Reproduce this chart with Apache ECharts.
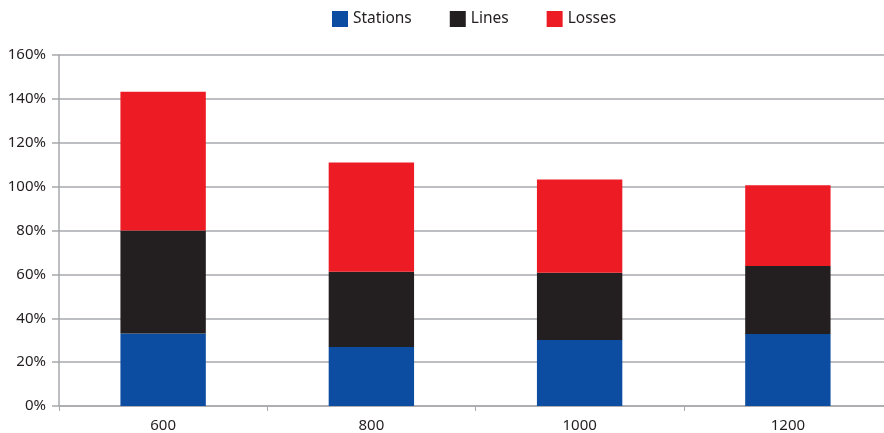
<!DOCTYPE html>
<html>
<head>
<meta charset="utf-8">
<script src="https://cdn.jsdelivr.net/npm/echarts@6/dist/echarts.min.js"></script>
<style>
  html, body { margin: 0; padding: 0; background: #fff; }
  #chart { width: 884px; height: 433px; }
</style>
</head>
<body>
<div id="chart"></div>
<script>
// Share of cost per voltage level, stacked by component (%)
const categories = ['600', '800', '1000', '1200'];
const stations = [33.0, 26.9, 30.1, 32.8];
const lines = [47.0, 34.3, 30.6, 31.0];
const losses = [63.3, 49.8, 42.6, 36.8];
const yTicks = [0, 20, 40, 60, 80, 100, 120, 140, 160];

const FONT = '"Noto Sans", "Open Sans", sans-serif';
const TEXT = '#231f20';
const GRID = '#a7a9ac';

const chart = echarts.init(document.getElementById('chart'), null, { renderer: 'canvas' });

const barSeries = (name, data, color) => ({
  name,
  type: 'bar',
  stack: 'total',
  data,
  barWidth: '41%',
  itemStyle: { color },
  emphasis: { disabled: true }
});

chart.setOption({
  animation: false,
  textStyle: { fontFamily: FONT },
  legend: {
    top: 6,
    left: 327,
    icon: 'rect',
    itemWidth: 16,
    itemHeight: 16,
    itemGap: 38,
    textStyle: { fontSize: 15.5, color: TEXT, fontFamily: FONT }
  },
  // plot runs slightly past the right edge of the canvas
  grid: { left: 59, width: 833, top: 55, bottom: 27, outerBoundsMode: 'none', containLabel: false },
  xAxis: {
    type: 'category',
    data: categories,
    axisLine: { lineStyle: { color: GRID, width: 1.5 } },
    axisTick: { show: true, alignWithLabel: false, length: 5, lineStyle: { color: GRID } },
    axisLabel: { fontSize: 15, color: TEXT, margin: 12, fontFamily: FONT }
  },
  yAxis: {
    type: 'value',
    min: yTicks[0],
    max: yTicks[yTicks.length - 1],
    interval: yTicks[1] - yTicks[0],
    axisLine: { show: true, lineStyle: { color: GRID, width: 1.5 } },
    axisTick: { show: true, length: 7, lineStyle: { color: GRID, width: 1.5 } },
    splitLine: { lineStyle: { color: GRID, width: 1.5 } },
    axisLabel: { fontSize: 15, color: TEXT, margin: 13, formatter: '{value}%', fontFamily: FONT }
  },
  series: [
    barSeries('Stations', stations, '#0c4da2'),
    barSeries('Lines', lines, '#231f20'),
    barSeries('Losses', losses, '#ed1c24')
  ]
});
</script>
</body>
</html>
